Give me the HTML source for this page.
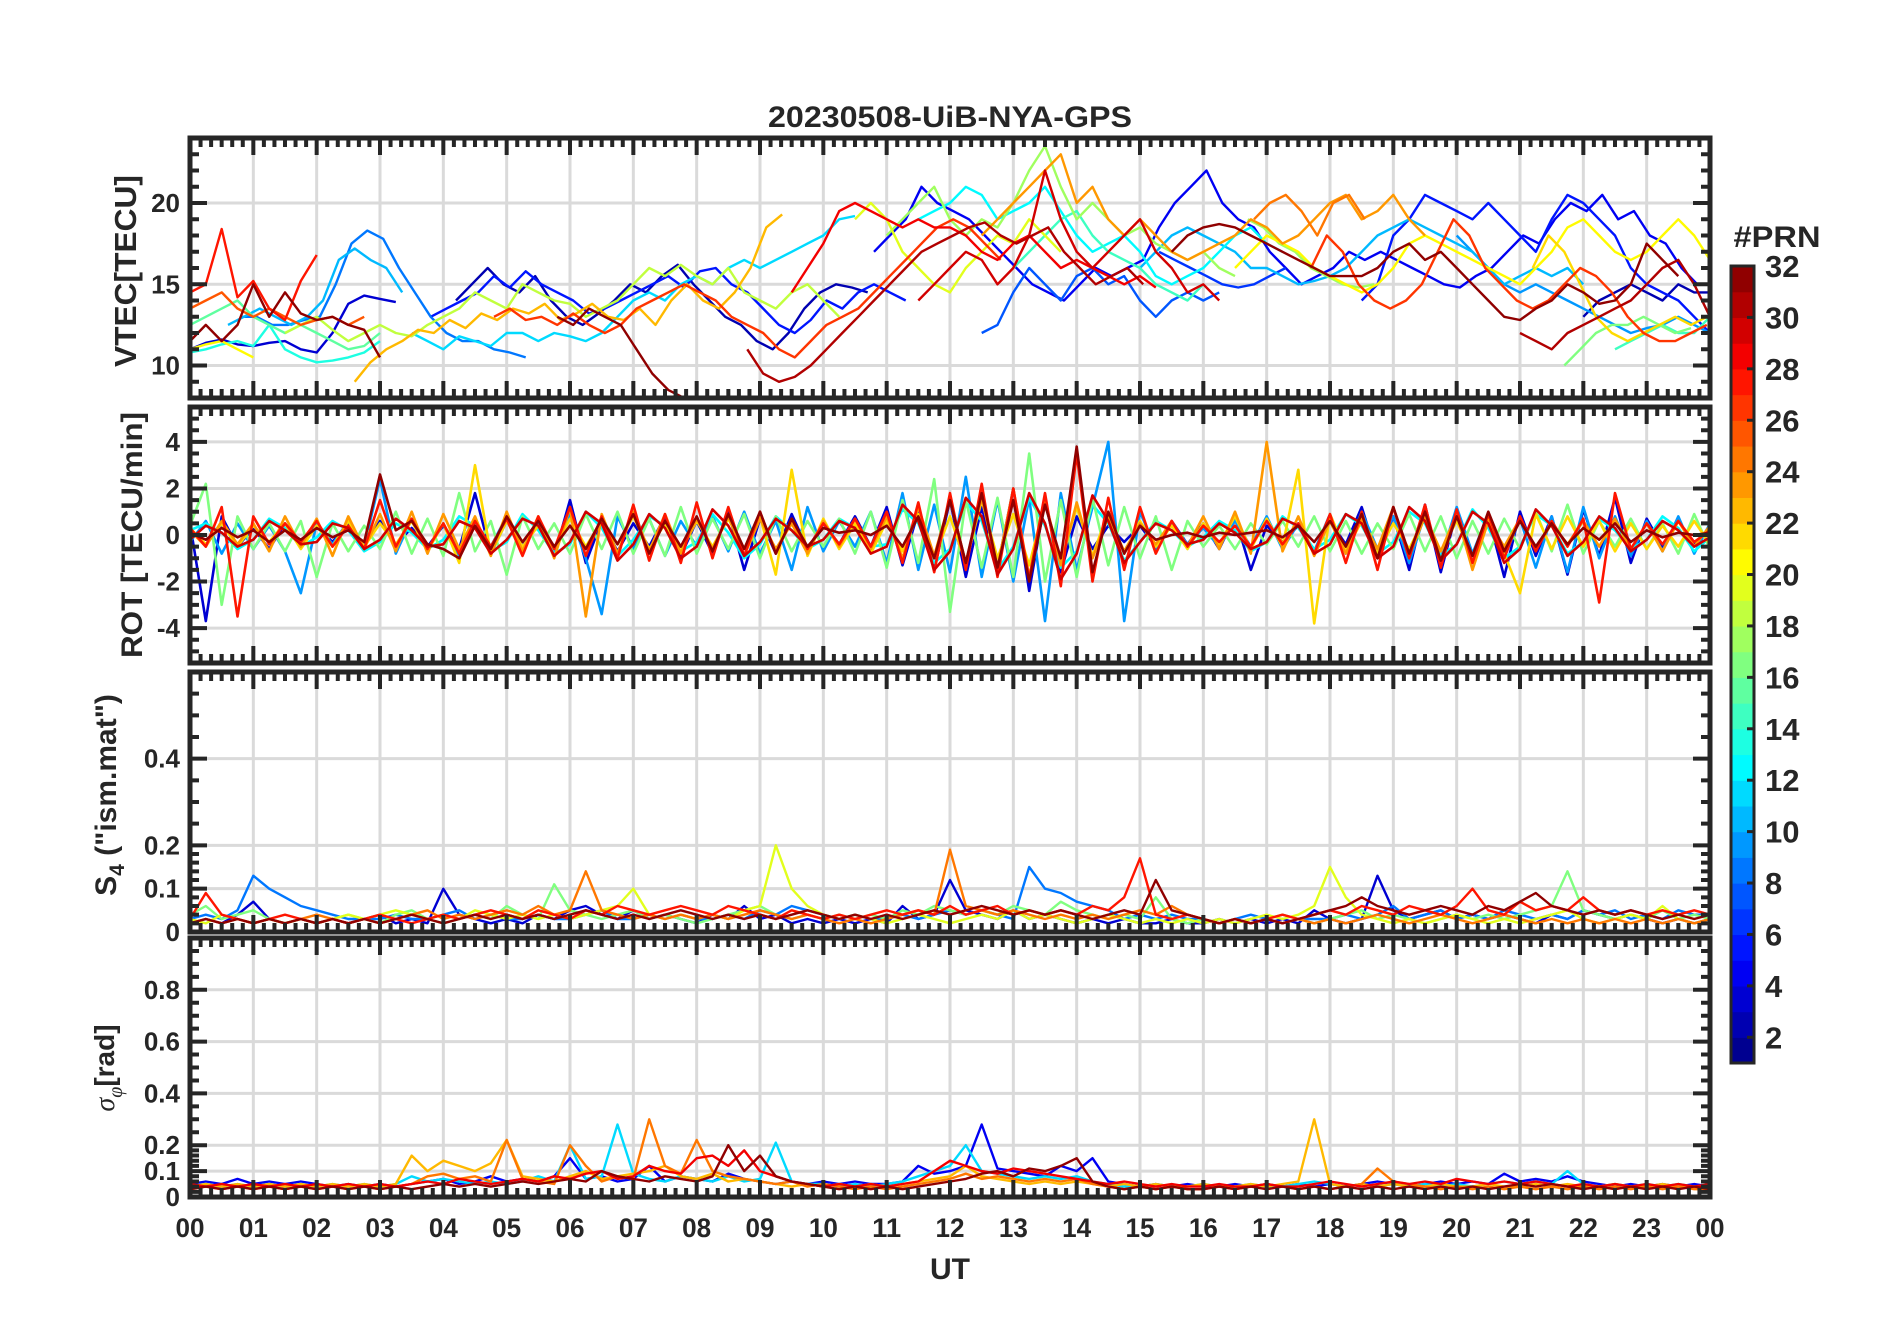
<!DOCTYPE html>
<html><head><meta charset="utf-8"><title>20230508-UiB-NYA-GPS</title>
<style>
html,body{margin:0;padding:0;background:#fff;}
svg{display:block;}
text{font-family:"Liberation Sans",Arial,sans-serif;font-weight:bold;fill:#262626;}
</style></head>
<body>
<svg id="fig" width="1902" height="1330" viewBox="0 0 1902 1330" xmlns="http://www.w3.org/2000/svg">
<rect x="0" y="0" width="1902" height="1330" fill="#fff"/>
<g id="grids"></g>
<g id="series"></g>
<g id="axes"></g>
<g id="labels"></g>
<text x="950" y="127" text-anchor="middle" font-size="30" textLength="364" lengthAdjust="spacingAndGlyphs">20230508-UiB-NYA-GPS</text>
<text x="950" y="1279" text-anchor="middle" font-size="30" textLength="40" lengthAdjust="spacingAndGlyphs">UT</text>
<text transform="translate(136,271) rotate(-90)" text-anchor="middle" font-size="31" textLength="192" lengthAdjust="spacingAndGlyphs">VTEC[TECU]</text>
<text transform="translate(142,535) rotate(-90)" text-anchor="middle" font-size="30" textLength="246" lengthAdjust="spacingAndGlyphs">ROT [TECU/min]</text>
<text transform="translate(116,795) rotate(-90)" text-anchor="middle" font-size="30">S<tspan font-size="21" dy="8">4</tspan><tspan dy="-8"> ("ism.mat")</tspan></text>
<text transform="translate(114,1068) rotate(-90)" text-anchor="middle" font-size="28"><tspan font-family="Liberation Serif,serif" font-style="italic" font-weight="normal">σ</tspan><tspan font-family="Liberation Serif,serif" font-style="italic" font-weight="normal" font-size="20" dy="8">φ</tspan><tspan dy="-8">[rad]</tspan></text>
<g id="cbar"></g>
<text x="1777" y="247" text-anchor="middle" font-size="30" textLength="87" lengthAdjust="spacingAndGlyphs">#PRN</text>
</svg>
<script>
// ---------- data ----------
const hourTicks=[0,1,2,3,4,5,6,7,8,9,10,11,12,13,14,15,16,17,18,19,20,21,22,23,24];
const hourLabels=["00","01","02","03","04","05","06","07","08","09","10","11","12","13","14","15","16","17","18","19","20","21","22","23","00"];
const vtecTicks=[10,15,20];
const rotTicks=[-4,-2,0,2,4];
const s4Ticks=[0,0.1,0.2,0.4];
const sigTicks=[0,0.1,0.2,0.4,0.6,0.8];
const cbarTicks=[2,4,6,8,10,12,14,16,18,20,22,24,26,28,30,32];

// VTEC series (15-min step)
const vtecPrn=[27,31,8,10,3,13,20,15,22,18,5,2,11,26,32,30,28,4,12,17,23,7,14,29,19,10,31,20,5,26,24,17,9,21,14,16,2,30,6,25];
const vtecStart=[0,0,0.8,0.6,0,0,0,0,2.6,1.5,3.8,4.2,3.5,4.8,5.8,8.8,9.5,10.8,11.5,11,12.5,12.5,13,11.5,10.5,15,15.5,16.5,18.5,17.7,16.8,16.7,20,21.2,22.5,21.7,22,21,15.3,0];
const vtecVals=[
[14.5,15,18.4,14.2,15.2,13.5,12.8,15.2,16.8],
[11.5,12.5,11.5,12.5,15,13,14.5,13.2,12.8,13,12.5,12.2,10.5],
[13,13,12.5,12.5,12.8,13,15,17.5,18.3,17.8,16,14.5,13,12,11.5,11.5,11,10.8,10.5],
[12.5,13,13.5,13,12.5,13,14,16.5,17.2,16.5,16,14.5],
[11,11.4,11.6,11.3,11.2,11.4,11.5,11,10.8,12,13.8,14.3,14.1,13.9],
[10.8,11,11.3,11.5,11.2,12.5,11,10.5,10.2,10.3,10.5,10.8,11.5],
[11,11.3,11.5,11,10.5],
[12.5,13,13.5,14,13,12.5,12,12.5,12,11.5,11,11.2,12],
[9,10.2,11,11.5,12.2,12,12.8,12.3,13.2,12.8,13.5,13.2,13.8,12.8,13.2,13.8,13,12.8,13.5,12.5,14,15,14,13.5,14.5,16,18.5,19.3],
[12,12.5,13,12.2,11.5,12,12.5,12,11.8,12.5,13,13.5,14.5,14,13.5,15,14.5,14,13.8,13,13.5,14,15,16,15.5,16.2,15.5,15,16,14.5,14,13.5,14.5,15,14,13],
[13,13.5,14,14.5,15.5,14.8,15.8,15,14.5,14,13.2,13.5,14,14.5,15,15.5,14.8,15.8,16,15,14.5,13.5,12.5,12,12.8,14,13.5,14.5,15,14.5,14],
[14,15,16,15,14.5,15.5,14,13,12.5,13.2,14,15,14.5,15.5,16.2,15,14,13,12.5,11.5,11,12,13.5,14.5,15,14.8,14.5],
[12,11.5,11,11.8,11.5,11.2,12,12,11.5,12,11.8,11.5,12,13,14,14.5,14,15,15.5,15,16,16.5,16,16.5,17,17.5,18,19,19.2],
[13,13.5,12.8,13,12.5,13.2,12.5,12,12.5,13.5,14,14.5,15,14.5,14,13,12.5,12,11,10.5,11.5,12.5,13,13.5,14.5,15.5,16.5,17.5,18.5,19,18.5,17.5,16.5],
[13,12.5,13.5,13,12.5,11,9.5,8.5,7.5],
[11,9.5,9,9.3,10,11,12,13,14,15,16,17,17.5,18,18.5,18.8,18,17.5,18,18.5,17,16,15,15.5,16,15],
[14.5,16,17.5,19.5,20,19.5,19,18.5,19,18.5,18.5,18,17,16.5,17.5,18,17,16,16.5,16,15.5,15,15.5,14.8],
[17,18,19,21,20,19.5,19,18,17,16,15,14.5,14,15,16,15.5,16,16.5,18.5,20,21,22,20,19,18.5,17,16,15,15.5,16,17,16.5,17,16.5,16,15.5,15,14.8,15.5,16,17,18,17.5,19,20,19.5,20.5,19,19.5,18,17.5,16,15,14.5],
[19,19.5,20,21,20.5,19,19.5,20,21,19.5,18,17,17.5,18,17,15.5,15,15.5,16,17,18,18.5,17.5,17],
[18,19,20,21,19,18,19,18.5,20,22,23.5,21,19,20,19,18,18.5,17.5,17,16.5,17,16,15.5],
[18,19,20,21,22,23,20,21,19,18,19,18,17,16.5,17,17.5,18,19,18.5,17.5,18,19,20,20.5,19,19.5,20.5,19,18],
[12,12.5,14.5,16,15,14,15.5,16,15,15.5,14,13,14,14.5,14,14.5],
[16,17,18,19,19.5,18,17,16.5,16,15,14.5,14,15],
[14,15,16,17,16.5,15,16,18,22,19,17,16,17,18,19,17,16,14.5,15,14],
[19,20,19,17,16,15,14.5,16,17,18,17.5,19,18,17],
[16,17,18,18.5,18,17.5,17,16,16,15.5,15,15.2,15.5,16,17,18,18.5,19,18.5,18,17.5,17,16,15,15.5,16,15.5,16,15],
[17,18,18.5,18.7,18.5,18,17.5,17,16.5,16,15.5,15.5,15.5,16,17,17.5,16.5,17,16,15,14,13,12.8,13.5,14,15,14.5,13.8,14,15,17.5,16.5,15.5],
[16,17,18,17.5,17,16,15.5,15,14.5,15,16,17.5,18,17.5,17,16.5,16,15.5,15,16,17,18.5,19,18,17,16.5,17,18,19,18,16.5,15,14,13.5,14,15,16,17,16,15,14,13,12.5,13,12.5],
[14,15,18,19,20.5,20,19.5,19,20,19,18,17,19,20.5,20,19,18,16,15,14.5,14,13,12,11.5,11,11.2,11.5,12],
[16,18,17,15,14,13.5,14,15,17,19,18,16,15,14,13.5,14,15,16,15.5,14.5,13,12,11.5,11.5,12,12.5,13,13.5,14,15,16],
[19,20,20.5,19.5,18,20,20.5,19],
[19,18.5,17.5,17,16,15.5,15,14.8,15],
[18,17,16,15,14.5,15,14.5,14,13.5,13,12.5,12,12.3,12.5,13,12.5,12,12.3,12],
[16,18,17,15,13,12,11.5,12,12.5,13,12.5,13,12.5,13,12.5,12.8],
[11,11.5,12,12.5,12,12,13,14.5,16],
[10,11,12,12.5,12.5,13,12.5,12,12.3],
[13,14,14.5,15,14.5,14,15,14.5,14.5,14],
[12,11.5,11,12,12.5,13,13.5,14,15,16,16.5,15,13,12.5,12],
[17,16.5,16,15.5,15,14.8,15,15.5,16],
[13.5,14,14.5,13.5,13,13.5,13,12.5,12.8,13,12.5,13]
];

// ROT series (15-min step, 00-24 UT)
const rotPrn=[3,9,12,16,21,23,27,29,31];
const rotVals=[
[0.5,-3.7,0.8,-0.5,0.3,-0.6,0.5,-0.4,0.4,-0.3,0.5,-0.5,0.6,-0.4,0.3,-0.5,0.4,-0.6,1.8,-0.8,0.6,-0.5,0.7,-0.9,1.5,-1.2,0.6,-0.7,0.5,-0.5,0.8,-0.9,0.6,-0.8,1.0,-1.5,0.7,-0.8,0.9,-0.6,0.5,-0.4,0.8,-0.5,1.2,-1.3,1.0,-1.5,1.5,-1.8,1.2,-1.4,2.0,-2.4,1.5,-1.6,0.8,-0.6,0.4,-0.3,0.4,-0.5,0.6,-0.4,0.5,-0.6,0.8,-1.5,0.4,-0.3,0.4,-0.8,0.6,-0.4,1.2,-1.0,0.8,-1.5,1.3,-1.6,1.0,-1.2,0.8,-1.8,1.0,-0.9,0.8,-1.7,1.1,-0.9,1.6,-1.2,0.7,-0.5,0.6,-0.4,0.3],
[-0.3,0.6,-0.8,0.5,-0.6,0.4,-0.7,-2.5,0.5,-0.4,0.6,-0.5,2.4,-0.8,0.7,-0.6,0.5,-0.9,0.6,-0.5,0.8,-0.6,0.5,-0.8,0.9,-1.0,-3.4,0.8,-0.6,0.7,-0.9,0.6,-0.5,0.8,-0.7,1.0,-0.8,0.6,-1.5,1.2,-0.7,0.6,-0.5,1.0,-1.2,1.8,-1.5,1.3,-1.6,2.5,-1.8,1.5,-2.0,1.6,-3.7,1.8,-1.5,1.2,4.0,-3.7,1.0,-0.6,0.5,-0.4,0.3,-0.5,0.6,-0.5,0.8,-0.6,0.5,-0.7,0.9,-0.8,1.0,-0.6,0.8,-1.2,0.9,-1.0,1.2,-0.8,0.9,-1.0,0.7,-1.4,0.8,-1.6,1.2,-1.0,0.8,-0.9,0.6,-0.7,0.8,-0.8,0.5],
[0.2,0.5,0.1,-0.6,-0.2,0.7,0.3,-0.5,-0.1,0.6,0.2,-0.7,-0.3,0.5,0.1,-0.6,-0.2,0.8,0.4,-0.7,-0.3,0.9,0.2,-0.8,-0.4,1.0,0.3,-0.9,-0.2,0.8,0.4,-0.7,-0.3,0.9,0.1,-1.0,-0.4,0.8,0.2,-0.6,-0.2,0.7,0.3,-0.5,-0.4,1.1,0.5,-1.2,-0.6,1.4,0.6,-1.5,-0.5,1.6,0.4,-1.4,-0.7,1.3,0.5,-1.1,-0.3,0.6,0.2,-0.5,-0.1,0.6,0.2,-0.7,-0.3,0.8,0.3,-0.6,-0.2,0.9,0.4,-0.8,-0.3,1.0,0.5,-0.9,-0.4,1.1,0.3,-1.0,-0.5,0.9,0.4,-0.8,-0.3,0.7,0.2,-0.6,-0.2,0.8,0.3,-0.7,-0.1],
[0.4,2.2,-3.0,0.8,-0.6,0.5,-0.7,0.6,-1.8,0.5,-0.7,0.4,-0.6,1.0,-0.8,0.7,-0.9,1.8,-0.7,0.6,-1.7,0.8,-0.6,0.5,-0.8,0.9,-0.6,1.0,-0.8,0.7,-0.9,1.2,-0.8,0.7,-0.6,0.9,-1.0,0.8,-0.7,0.6,-0.5,0.7,-0.8,1.0,-1.4,1.5,-1.2,2.4,-3.3,1.5,-1.4,1.6,-1.8,3.5,-2.0,1.5,-1.8,1.6,-1.3,1.2,-1.0,0.8,-1.5,0.6,-0.5,0.4,-0.6,0.5,-0.4,0.6,-0.5,0.8,-0.7,0.6,-0.8,0.5,-0.6,0.9,-0.7,0.8,-1.0,0.6,-0.8,0.7,-0.6,1.0,-0.7,1.3,-0.8,0.6,-0.5,0.7,-0.6,0.5,-0.8,0.9,-0.6],
[0.3,-0.4,0.5,-0.5,0.4,-0.3,0.5,-0.6,0.4,-0.5,0.6,-0.5,0.5,-0.4,0.6,-0.7,0.5,-1.2,3.0,-0.8,0.6,-0.5,0.4,-0.6,0.7,-0.5,0.6,-0.4,0.8,-0.6,0.5,-0.7,0.6,-0.5,0.7,-0.6,0.8,-1.7,2.8,-0.9,0.7,-0.6,0.5,-0.8,0.6,-0.7,0.9,-1.0,0.8,-1.2,1.5,-1.0,0.9,-1.3,1.4,-1.1,1.2,-0.9,1.0,-0.8,0.6,-0.5,0.4,-0.6,0.5,-0.4,0.8,-0.6,0.7,-0.5,2.8,-3.8,0.9,-0.7,0.6,-0.8,0.5,-0.6,0.8,-0.7,0.6,-0.9,0.7,-0.8,-2.5,0.9,-0.6,0.8,-0.5,0.6,-0.7,0.5,-0.6,0.4,-0.5,0.6,-0.4],
[0.2,-0.5,0.6,-0.4,0.5,-0.7,0.8,-0.5,0.7,-0.9,0.8,-0.6,0.9,-0.7,1.0,-0.8,0.9,-0.6,0.8,-0.9,1.0,-0.7,0.8,-1.0,1.2,-3.5,0.9,-0.8,1.0,-0.7,0.9,-0.8,0.7,-0.6,0.8,-0.9,0.7,-0.6,0.5,-0.8,0.6,-0.5,0.7,-0.6,0.8,-1.0,1.2,-0.9,1.5,-1.2,1.6,-1.4,2.0,-1.8,1.5,-1.3,1.4,-1.0,0.8,-0.7,0.5,-0.4,0.6,-0.5,0.8,-0.6,1.0,-0.8,4.0,-0.7,0.8,-0.9,0.6,-0.8,0.7,-0.6,1.2,-0.9,0.8,-0.7,0.9,-1.5,0.6,-0.5,0.7,-0.6,0.5,-0.4,0.6,-0.5,0.7,-0.6,0.5,-0.7,0.6,-0.5,0.4],
[0.3,-0.5,1.2,-3.5,0.8,-0.4,0.5,-0.3,0.6,-0.5,0.4,-0.6,1.5,-0.5,0.7,-0.6,0.5,-0.8,0.6,-0.5,0.7,-0.9,0.8,-0.6,1.2,-0.9,0.8,-1.0,1.3,-1.1,0.9,-1.2,1.4,-1.0,1.2,-0.9,1.0,-0.8,0.7,-0.6,0.5,-0.4,0.7,-0.5,1.0,-1.2,1.4,-1.6,1.8,-1.5,2.2,-1.8,2.0,-1.9,1.8,-2.2,3.5,-2.0,1.6,-1.5,1.2,-0.8,0.6,-0.5,0.4,-0.3,0.4,-0.5,0.6,-0.4,0.5,-0.8,0.9,-1.2,1.0,-1.5,1.2,-1.0,1.3,-1.4,1.1,-1.2,0.9,-1.0,0.8,-0.7,0.6,-0.5,0.7,-2.9,1.8,-0.6,0.5,-0.4,0.6,-0.3,0.2],
[-0.2,0.4,0.1,-0.5,-0.2,0.6,0.2,-0.4,-0.3,0.5,0.3,-0.6,-0.2,0.7,0.2,-0.5,-0.4,0.6,0.3,-0.8,-0.2,0.7,0.4,-0.9,-0.3,1.0,0.5,-1.1,-0.4,0.9,0.3,-1.0,-0.5,1.1,0.4,-0.9,-0.3,0.7,0.2,-0.5,-0.2,0.6,0.3,-0.8,-0.5,1.3,0.6,-1.5,-0.7,1.6,0.8,-1.7,-0.6,1.8,0.5,-1.9,-0.8,1.7,0.6,-1.2,-0.3,0.5,0.2,-0.4,-0.2,0.5,0.1,-0.6,-0.3,0.7,0.4,-0.8,-0.4,0.9,0.5,-1.0,-0.5,1.2,0.6,-1.1,-0.4,1.0,0.5,-1.2,-0.6,1.1,0.4,-0.9,-0.3,0.8,0.3,-0.7,-0.2,0.6,0.2,-0.5,-0.1],
[0.1,-0.2,0.3,-0.1,0.2,-0.3,0.2,-0.2,0.3,-0.1,0.2,-0.3,2.6,0.2,0.6,-0.4,-0.6,-1.0,0.4,-0.6,0.8,-0.3,0.6,-0.5,0.4,-0.6,0.7,-0.4,0.9,-0.8,0.6,-0.5,0.8,-0.7,0.9,-0.6,1.0,-0.8,0.7,-0.5,0.3,0.1,0.2,0.0,0.4,-0.5,0.8,-1.0,1.5,-1.2,1.8,-1.4,1.5,-2.0,1.3,-1.0,3.8,-1.6,1.0,-0.8,0.4,-0.2,0.0,0.1,-0.1,0.1,0.0,0.1,0.2,-0.1,0.4,-0.3,0.6,-0.5,0.9,-1.0,1.2,-0.8,1.0,-1.1,0.8,-0.9,1.0,-0.7,0.6,-0.5,0.5,-0.4,0.3,-0.2,0.5,-0.3,0.2,-0.1,0.1,0.0,0.1]
];

// S4 series (15-min step)
const s4Prn=[3,8,16,19,24,27,31];
const s4Vals=[
[0.02,0.03,0.02,0.04,0.07,0.03,0.02,0.03,0.02,0.03,0.02,0.03,0.04,0.02,0.03,0.02,0.1,0.04,0.03,0.02,0.03,0.02,0.04,0.03,0.05,0.06,0.04,0.03,0.05,0.03,0.04,0.03,0.02,0.04,0.03,0.06,0.03,0.04,0.02,0.03,0.02,0.03,0.02,0.03,0.02,0.06,0.03,0.04,0.12,0.05,0.04,0.03,0.05,0.03,0.04,0.03,0.02,0.03,0.02,0.03,0.02,0.02,0.03,0.02,0.02,0.03,0.02,0.03,0.02,0.03,0.02,0.05,0.03,0.02,0.03,0.13,0.05,0.03,0.04,0.05,0.03,0.04,0.03,0.04,0.03,0.02,0.04,0.03,0.05,0.04,0.03,0.04,0.03,0.02,0.03,0.02,0.03],
[0.03,0.04,0.03,0.05,0.13,0.1,0.08,0.06,0.05,0.04,0.03,0.03,0.03,0.04,0.03,0.03,0.04,0.05,0.03,0.04,0.03,0.03,0.04,0.03,0.03,0.04,0.05,0.03,0.03,0.04,0.03,0.04,0.03,0.03,0.04,0.03,0.05,0.04,0.06,0.05,0.04,0.03,0.04,0.03,0.03,0.04,0.03,0.04,0.05,0.04,0.05,0.04,0.03,0.15,0.1,0.09,0.07,0.06,0.05,0.03,0.04,0.03,0.04,0.03,0.03,0.02,0.03,0.04,0.03,0.02,0.03,0.03,0.03,0.04,0.03,0.04,0.06,0.03,0.04,0.05,0.03,0.04,0.03,0.05,0.04,0.03,0.04,0.03,0.05,0.04,0.05,0.03,0.04,0.03,0.05,0.04,0.04],
[0.04,0.06,0.03,0.04,0.05,0.03,0.02,0.03,0.02,0.03,0.04,0.03,0.02,0.04,0.05,0.03,0.02,0.03,0.04,0.03,0.06,0.04,0.03,0.11,0.05,0.04,0.03,0.04,0.05,0.03,0.04,0.03,0.02,0.03,0.04,0.05,0.06,0.04,0.03,0.04,0.03,0.04,0.03,0.04,0.03,0.05,0.04,0.06,0.05,0.04,0.05,0.04,0.06,0.05,0.04,0.07,0.05,0.04,0.03,0.04,0.03,0.08,0.03,0.02,0.03,0.02,0.03,0.02,0.03,0.04,0.03,0.02,0.03,0.04,0.05,0.03,0.04,0.03,0.02,0.03,0.04,0.03,0.04,0.03,0.04,0.05,0.06,0.14,0.05,0.04,0.03,0.04,0.03,0.05,0.03,0.04,0.03],
[0.03,0.02,0.04,0.03,0.02,0.03,0.02,0.03,0.02,0.03,0.04,0.03,0.04,0.05,0.04,0.03,0.04,0.03,0.05,0.04,0.03,0.04,0.03,0.04,0.03,0.04,0.05,0.06,0.1,0.04,0.03,0.04,0.03,0.04,0.03,0.05,0.06,0.2,0.1,0.06,0.04,0.03,0.04,0.03,0.02,0.03,0.04,0.03,0.02,0.03,0.04,0.03,0.05,0.03,0.04,0.03,0.02,0.03,0.04,0.03,0.02,0.03,0.02,0.03,0.02,0.03,0.02,0.03,0.04,0.03,0.04,0.06,0.15,0.08,0.04,0.03,0.02,0.03,0.02,0.03,0.04,0.03,0.02,0.03,0.02,0.03,0.04,0.05,0.03,0.02,0.03,0.04,0.03,0.06,0.03,0.02,0.03],
[0.02,0.03,0.02,0.03,0.02,0.03,0.02,0.03,0.04,0.03,0.02,0.03,0.02,0.03,0.04,0.05,0.03,0.04,0.03,0.04,0.05,0.04,0.06,0.04,0.05,0.14,0.05,0.04,0.03,0.04,0.03,0.04,0.03,0.04,0.03,0.04,0.05,0.04,0.03,0.04,0.03,0.02,0.03,0.02,0.03,0.04,0.05,0.04,0.19,0.06,0.05,0.04,0.05,0.04,0.03,0.04,0.03,0.04,0.03,0.04,0.05,0.04,0.06,0.04,0.03,0.02,0.03,0.02,0.03,0.02,0.03,0.02,0.03,0.02,0.03,0.04,0.03,0.02,0.03,0.04,0.03,0.02,0.03,0.04,0.03,0.02,0.03,0.02,0.03,0.02,0.03,0.02,0.03,0.02,0.03,0.02,0.03],
[0.03,0.09,0.04,0.03,0.02,0.03,0.04,0.03,0.02,0.03,0.02,0.03,0.04,0.03,0.02,0.03,0.04,0.03,0.04,0.05,0.04,0.03,0.05,0.04,0.03,0.05,0.04,0.06,0.05,0.04,0.05,0.06,0.05,0.04,0.06,0.05,0.04,0.03,0.05,0.04,0.03,0.04,0.03,0.04,0.05,0.04,0.05,0.04,0.06,0.04,0.05,0.06,0.04,0.05,0.04,0.05,0.04,0.06,0.05,0.08,0.17,0.04,0.03,0.04,0.03,0.02,0.03,0.02,0.03,0.04,0.03,0.04,0.05,0.04,0.06,0.05,0.04,0.06,0.05,0.04,0.06,0.1,0.05,0.04,0.07,0.05,0.06,0.05,0.08,0.05,0.04,0.05,0.04,0.05,0.04,0.05,0.04],
[0.02,0.03,0.02,0.03,0.02,0.03,0.02,0.03,0.02,0.03,0.02,0.03,0.02,0.03,0.04,0.03,0.02,0.03,0.04,0.03,0.04,0.03,0.04,0.03,0.04,0.05,0.04,0.03,0.04,0.03,0.04,0.05,0.04,0.03,0.04,0.03,0.04,0.03,0.04,0.05,0.04,0.03,0.04,0.03,0.04,0.03,0.04,0.05,0.04,0.05,0.06,0.05,0.04,0.05,0.04,0.05,0.04,0.03,0.04,0.05,0.04,0.12,0.05,0.04,0.03,0.02,0.03,0.02,0.03,0.02,0.03,0.04,0.05,0.06,0.08,0.06,0.05,0.04,0.05,0.06,0.05,0.04,0.06,0.05,0.07,0.09,0.06,0.05,0.04,0.05,0.04,0.05,0.04,0.03,0.04,0.03,0.04]
];

// sigma-phi series (15-min step)
const sigPrn=[4,11,22,24,28,31];
const sigVals=[
[0.05,0.06,0.05,0.07,0.05,0.06,0.05,0.06,0.05,0.04,0.05,0.04,0.05,0.04,0.05,0.06,0.07,0.05,0.06,0.08,0.06,0.07,0.06,0.08,0.15,0.07,0.08,0.06,0.07,0.12,0.06,0.08,0.07,0.06,0.09,0.07,0.06,0.05,0.06,0.05,0.06,0.05,0.06,0.05,0.05,0.06,0.12,0.09,0.1,0.12,0.28,0.11,0.1,0.09,0.08,0.12,0.1,0.15,0.06,0.05,0.04,0.05,0.04,0.05,0.04,0.04,0.05,0.04,0.05,0.04,0.05,0.04,0.05,0.04,0.05,0.06,0.05,0.04,0.05,0.06,0.05,0.06,0.05,0.09,0.06,0.07,0.06,0.08,0.06,0.05,0.04,0.05,0.04,0.05,0.04,0.05,0.04],
[0.04,0.05,0.04,0.05,0.04,0.05,0.04,0.05,0.04,0.05,0.04,0.05,0.04,0.05,0.08,0.06,0.07,0.06,0.05,0.06,0.05,0.06,0.08,0.06,0.2,0.07,0.08,0.28,0.09,0.07,0.06,0.08,0.07,0.06,0.08,0.06,0.07,0.21,0.06,0.05,0.05,0.04,0.05,0.04,0.05,0.06,0.08,0.1,0.12,0.2,0.1,0.09,0.08,0.07,0.08,0.07,0.08,0.06,0.05,0.04,0.04,0.05,0.04,0.04,0.05,0.04,0.04,0.05,0.04,0.04,0.05,0.06,0.05,0.04,0.05,0.04,0.05,0.04,0.05,0.04,0.05,0.04,0.05,0.06,0.05,0.06,0.05,0.1,0.05,0.04,0.05,0.04,0.05,0.04,0.05,0.04,0.04],
[0.04,0.05,0.04,0.05,0.04,0.05,0.04,0.05,0.04,0.05,0.04,0.05,0.04,0.05,0.16,0.1,0.14,0.12,0.1,0.13,0.22,0.08,0.07,0.06,0.08,0.1,0.07,0.08,0.09,0.1,0.12,0.08,0.07,0.09,0.06,0.07,0.06,0.05,0.04,0.05,0.04,0.05,0.04,0.05,0.04,0.05,0.06,0.07,0.08,0.12,0.08,0.07,0.06,0.05,0.06,0.05,0.06,0.05,0.04,0.05,0.04,0.05,0.04,0.04,0.05,0.04,0.04,0.05,0.04,0.05,0.06,0.3,0.05,0.04,0.05,0.04,0.05,0.04,0.04,0.05,0.04,0.04,0.05,0.04,0.04,0.05,0.04,0.05,0.04,0.04,0.05,0.04,0.04,0.05,0.04,0.04,0.04],
[0.03,0.04,0.03,0.04,0.03,0.04,0.03,0.04,0.03,0.04,0.03,0.04,0.03,0.04,0.05,0.08,0.09,0.07,0.08,0.06,0.22,0.07,0.06,0.05,0.2,0.12,0.06,0.08,0.07,0.3,0.12,0.09,0.22,0.1,0.08,0.07,0.06,0.05,0.06,0.04,0.05,0.04,0.03,0.04,0.03,0.04,0.05,0.06,0.07,0.09,0.07,0.08,0.07,0.06,0.07,0.06,0.07,0.05,0.04,0.03,0.04,0.03,0.04,0.03,0.03,0.04,0.03,0.04,0.05,0.04,0.03,0.04,0.03,0.04,0.05,0.11,0.06,0.05,0.04,0.03,0.04,0.03,0.04,0.03,0.04,0.03,0.04,0.03,0.04,0.03,0.04,0.03,0.04,0.03,0.04,0.03,0.03],
[0.05,0.04,0.05,0.04,0.05,0.04,0.05,0.04,0.05,0.04,0.05,0.04,0.05,0.04,0.05,0.06,0.05,0.07,0.06,0.05,0.06,0.07,0.06,0.08,0.07,0.09,0.1,0.07,0.08,0.12,0.1,0.09,0.15,0.16,0.12,0.18,0.1,0.08,0.06,0.05,0.04,0.05,0.04,0.05,0.04,0.05,0.06,0.1,0.14,0.12,0.1,0.09,0.11,0.1,0.09,0.08,0.07,0.06,0.05,0.06,0.05,0.04,0.05,0.04,0.04,0.05,0.04,0.04,0.05,0.04,0.04,0.05,0.06,0.05,0.04,0.05,0.06,0.05,0.06,0.05,0.07,0.06,0.05,0.06,0.05,0.06,0.05,0.04,0.05,0.04,0.05,0.04,0.05,0.04,0.05,0.04,0.05],
[0.03,0.04,0.03,0.04,0.03,0.04,0.03,0.04,0.03,0.04,0.03,0.04,0.03,0.04,0.03,0.04,0.05,0.04,0.05,0.04,0.05,0.06,0.05,0.06,0.07,0.06,0.1,0.08,0.07,0.06,0.08,0.07,0.06,0.08,0.2,0.1,0.16,0.08,0.06,0.05,0.04,0.03,0.04,0.03,0.04,0.03,0.04,0.05,0.06,0.07,0.09,0.1,0.08,0.11,0.1,0.12,0.15,0.06,0.04,0.03,0.04,0.03,0.04,0.03,0.03,0.04,0.03,0.04,0.03,0.04,0.03,0.04,0.03,0.04,0.03,0.04,0.03,0.04,0.03,0.04,0.03,0.04,0.03,0.04,0.05,0.04,0.05,0.04,0.03,0.04,0.03,0.04,0.03,0.04,0.03,0.04,0.03]
];

// ---------- layout ----------
const NS="http://www.w3.org/2000/svg";
const L=190,R=1710;
const panels=[
 {top:138,bot:398,min:8,max:24,name:"vtec"},
 {top:407,bot:663,min:-5.5,max:5.5,name:"rot"},
 {top:672,bot:932,min:0,max:0.6,name:"s4"},
 {top:938,bot:1197,min:0,max:1,name:"sigma"}
];
const gG=document.getElementById('grids'),gS=document.getElementById('series'),gA=document.getElementById('axes'),gL=document.getElementById('labels'),gC=document.getElementById('cbar');
function xs(h){return L+(R-L)*h/24;}
function ys(p,v){return p.bot-(v-p.min)/(p.max-p.min)*(p.bot-p.top);}
function el(tag,attrs,parent){const e=document.createElementNS(NS,tag);for(const k in attrs)e.setAttribute(k,attrs[k]);parent.appendChild(e);return e;}
function jet(x){const c=v=>Math.round(255*Math.max(0,Math.min(1,v)));
 return `rgb(${c(1.5-Math.abs(4*x-3))},${c(1.5-Math.abs(4*x-2))},${c(1.5-Math.abs(4*x-1))})`;}
function prnColor(p){const i=Math.min(30,Math.max(0,Math.floor(p-1)));return jet((i+0.5)/31);}

const yTickSets=[vtecTicks,rotTicks,s4Ticks,sigTicks];
const yMinor=[
 [9,11,12,13,14,16,17,18,19,21,22,23],
 [-5,-4.5,-3.5,-3,-2.5,-1.5,-1,-0.5,0.5,1,1.5,2.5,3,3.5,4.5,5],
 [0.02,0.04,0.06,0.08,0.12,0.14,0.16,0.18,0.25,0.3,0.35,0.45,0.5,0.55],
 [0.02,0.04,0.06,0.08,0.12,0.14,0.16,0.18,0.25,0.3,0.35,0.45,0.5,0.55,0.65,0.7,0.75,0.85,0.9,0.95]
];

panels.forEach((p,pi)=>{
 hourTicks.forEach(h=>{if(h>0&&h<24){
  const g=el('line',{x1:xs(h),x2:xs(h),y1:p.top,y2:p.bot,stroke:'#dadada','stroke-width':3},gG);
  
  
 }});
 yTickSets[pi].forEach(v=>{
  const y=ys(p,v);
  if(y>p.top+3&&y<p.bot-3){
   const g=el('line',{x1:L,x2:R,y1:y,y2:y,stroke:'#dadada','stroke-width':3},gG);
   
   
  }
  const t=el('text',{x:180,y:y+9,'text-anchor':'end','font-size':26},gL);
  t.textContent=String(v);
  
  
 });
 const f=el('rect',{x:L,y:p.top,width:R-L,height:p.bot-p.top,fill:'none',stroke:'#262626','stroke-width':5},gA);
 
 
 let d='';
 for(let m=0;m<=144;m++){const x=xs(m/6);const len=(m%6===0)?17:9;
  d+=`M${x},${p.top}v${len}M${x},${p.bot}v${-len}`;}
 yTickSets[pi].forEach(v=>{const y=ys(p,v);d+=`M${L},${y}h17M${R},${y}h-17`;});
 yMinor[pi].forEach(v=>{const y=ys(p,v);d+=`M${L},${y}h9M${R},${y}h-9`;});
 const tk=el('path',{d:d,stroke:'#262626','stroke-width':4,fill:'none'},gA);
 
 
});

hourTicks.forEach((h,i)=>{
 const t=el('text',{x:xs(h),y:1237,'text-anchor':'middle','font-size':27,textLength:29,lengthAdjust:'spacingAndGlyphs'},gL);
 t.textContent=hourLabels[i];
 
 
});

function drawSeries(p,prn,start,vals,width,name){
 let d='';let pen=false;
 vals.forEach((v,i)=>{const h=start+i*0.25;
  if(v===null||h>24){pen=false;return;}
  let vv=Math.max(p.min,Math.min(p.max,v));
  const x=xs(h),y=ys(p,vv);d+=(pen?'L':'M')+x.toFixed(1)+','+y.toFixed(1);pen=true;});
 const e=el('path',{d:d,fill:'none',stroke:prnColor(prn),'stroke-width':width,'stroke-linejoin':'round'},gS);
 
 
}
function order(prns){return prns.map((p,i)=>i).sort((a,b)=>prns[a]-prns[b]);}
order(vtecPrn).forEach(i=>drawSeries(panels[0],vtecPrn[i],vtecStart[i],vtecVals[i],2.4,'vtec-line'));
order(rotPrn).forEach(i=>drawSeries(panels[1],rotPrn[i],0,rotVals[i],2.6,'rot-line'));
order(s4Prn).forEach(i=>drawSeries(panels[2],s4Prn[i],0,s4Vals[i],2.4,'s4-line'));
order(sigPrn).forEach(i=>drawSeries(panels[3],sigPrn[i],0,sigVals[i],2.4,'sigma-line'));

const cbT=266,cbB=1063,cbL=1731,cbR=1754,cbMin=1,cbMax=32;
function cy(v){return cbB-(v-cbMin)/(cbMax-cbMin)*(cbB-cbT);}
for(let i=0;i<31;i++){
 const r=el('rect',{x:cbL,y:cy(cbMin+i+1),width:cbR-cbL,height:cy(cbMin+i)-cy(cbMin+i+1)+0.6,fill:jet((i+0.5)/31)},gC);
 
 
}
const cf=el('rect',{x:cbL,y:cbT,width:cbR-cbL,height:cbB-cbT,fill:'none',stroke:'#262626','stroke-width':3},gC);


cbarTicks.forEach(v=>{
 const y=cy(v);
 const tl=el('line',{x1:cbR-7,x2:cbR,y1:y,y2:y,stroke:'#262626','stroke-width':3},gC);
 
 
 const t=el('text',{x:1765,y:y+11,'font-size':31},gC);
 t.textContent=String(v);
 
 
});
</script>
</body></html>
